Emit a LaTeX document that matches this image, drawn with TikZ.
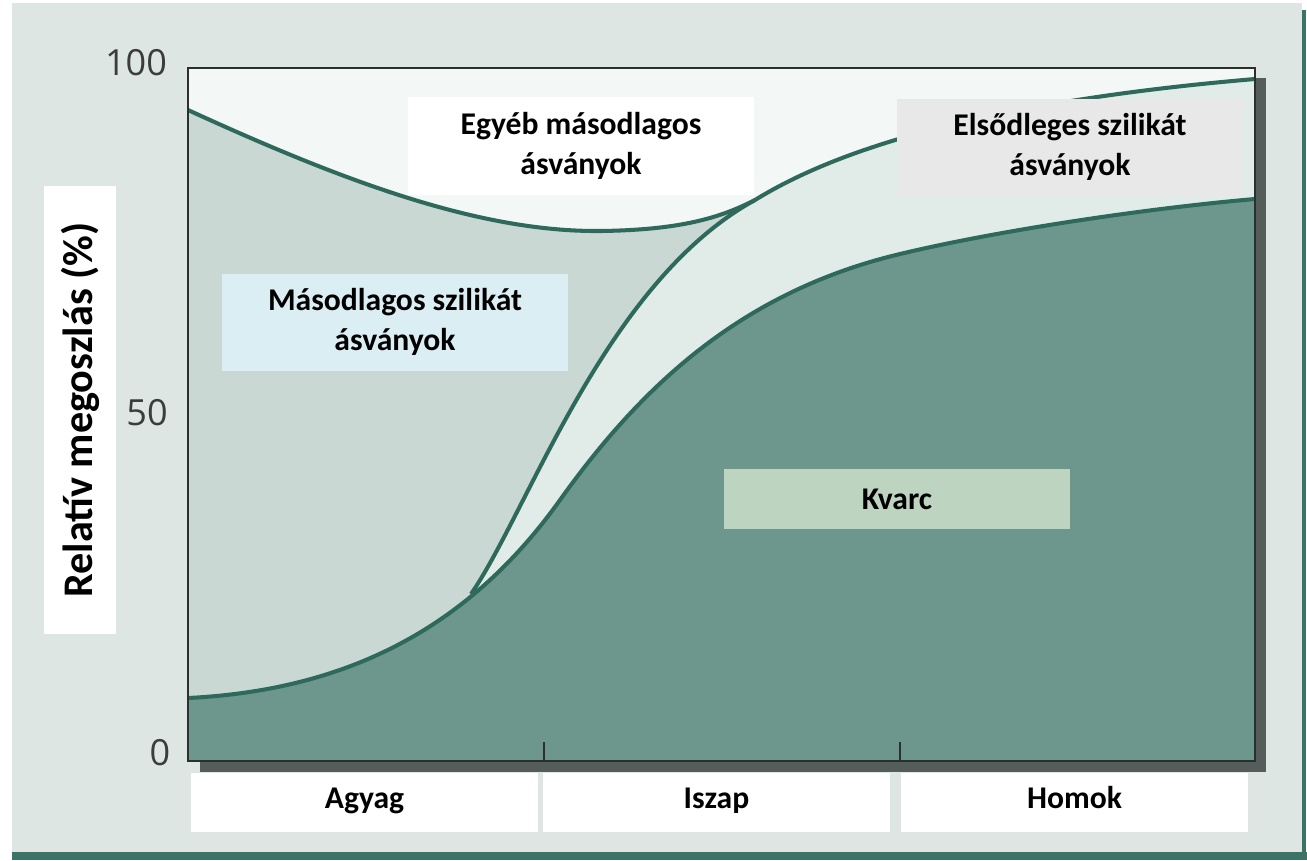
\documentclass[tikz,border=0pt]{standalone}
\usepackage{fontspec}
\setmainfont{Carlito}
\newfontfamily\tickfont{Open Sans}

\definecolor{pagebg}{HTML}{DDE6E2}
\definecolor{band}{HTML}{3B7467}
\definecolor{egyeb}{HTML}{F3F7F5}
\definecolor{masod}{HTML}{C9D8D2}
\definecolor{elsod}{HTML}{E1ECE8}
\definecolor{kvarc}{HTML}{6D978C}
\definecolor{curve}{HTML}{2E695C}
\definecolor{framec}{HTML}{2B302E}
\definecolor{shadowc}{HTML}{555D5A}
\definecolor{boxgray}{HTML}{E8E8E8}
\definecolor{boxblue}{HTML}{DBEEF4}
\definecolor{boxgreen}{HTML}{BDD4C0}
\definecolor{tickc}{HTML}{3A3D3C}

\tikzset{
  lbl/.style={font=\bfseries\fontsize{18}{22.5}\selectfont, align=center,
              inner sep=0pt, minimum width=6.94cm, text=black},
  catbox/.style={lbl, fill=white, minimum height=1.18cm,
                 text height=2.1ex, text depth=0.6ex},
  ticklbl/.style={font=\tickfont\fontsize{20.5}{24}\selectfont, text=tickc, inner sep=0pt},
  bound/.style={draw=curve, line width=2.3pt, line join=round},
}

% boundary curves, in pixel-like units (y grows downwards)
\def\curveA{(188,110) .. controls (345,182) and (480,232) .. (600,231)
            .. controls (680,230) and (720,218) .. (755,200)}
\def\curveB{(471,594) .. controls (528,512) and (605,282) .. (755,200)}
\def\curveU{.. controls (820,160) and (950,105) .. (1255,79)}
\def\curveC{(188,698) .. controls (350,690) and (470,626) .. (560,500)
            .. controls (640,388) and (740,292) .. (900,254)
            .. controls (1000,230) and (1150,208) .. (1255,199)}

\begin{document}
\begin{tikzpicture}[x=0.02cm, y=-0.02cm]
  \useasboundingbox (0,0) rectangle (1307,860);
  \fill[white] (0,0) rectangle (1307,860);
  % page background and dark edge bands
  \fill[pagebg] (12,3) rectangle (1302,852);
  \fill[band] (12,852) rectangle (1307,860);
  \fill[band] (1302,10) rectangle (1306,860);

  % frame shadow
  \fill[shadowc] (1255,78) rectangle (1266,772);
  \fill[shadowc] (200,761) rectangle (1266,772);

  % plot area
  \fill[egyeb] (188,68) rectangle (1255,761);

  % secondary silicates: below the upper envelope
  \fill[masod] (188,761) -- \curveA \curveU -- (1255,761) -- cycle;
  % primary silicates: right of the rising curve
  \fill[elsod] (471,761) -- \curveB \curveU -- (1255,761) -- cycle;
  % quartz
  \fill[kvarc] (188,761) -- \curveC -- (1255,761) -- cycle;

  % boundary lines
  \draw[bound] \curveA;
  \draw[bound] \curveB \curveU;
  \draw[bound] \curveC;

  % frame and ticks
  \draw[framec, line width=1.1pt] (188,68) rectangle (1255,761);
  \draw[framec, line width=0.9pt] (544,761) -- (544,742);
  \draw[framec, line width=0.9pt] (900,761) -- (900,742);

  % axis numbers
  \node[ticklbl] (t100) at (136,63) {100};
  \node[ticklbl] (t50) at (147,413) {50};
  \node[ticklbl] (t0) at (160,753) {0};

  % axis title
  \node[fill=white, rotate=90, minimum width=8.98cm, minimum height=1.44cm, inner sep=0pt,
        font=\bfseries\fontsize{24}{28}\selectfont] (ytitle) at (80,410)
        {Relatív megoszlás (\%)};

  % region labels
  \node[lbl, fill=white, minimum height=1.96cm] (egy) at (581,146)
        {Egyéb másodlagos\\ásványok};
  \node[lbl, fill=boxgray, minimum height=1.94cm] (els) at (1070,147)
        {Elsődleges szilikát\\ásványok};
  \node[lbl, fill=boxblue, minimum height=1.94cm] (mas) at (395,322)
        {Másodlagos szilikát\\ásványok};
  \node[lbl, fill=boxgreen, minimum height=1.2cm] (kv) at (897,499) {Kvarc};

  % grain-size classes
  \node[catbox] (agyag) at (364.5,802.5) {Agyag};
  \node[catbox] (iszap) at (716.5,802.5) {Iszap};
  \node[catbox] (homok) at (1074.5,802.5) {Homok};
\end{tikzpicture}
\end{document}
